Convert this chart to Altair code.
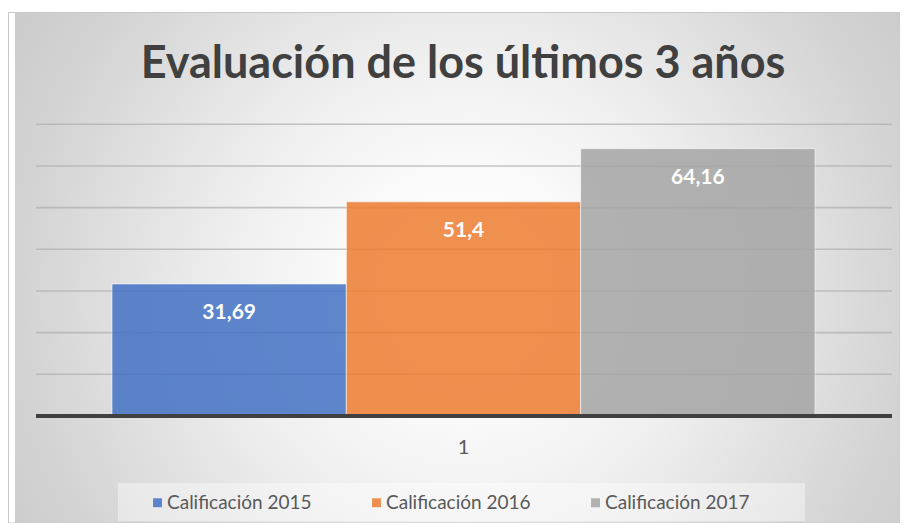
import altair as alt
import pandas as pd

# ---- data ----
series = ["Calificación 2015", "Calificación 2016", "Calificación 2017"]
values = [31.69, 51.4, 64.16]
colors = ["#4472C4", "#ED7D31", "#A5A5A5"]
category = ["1"]
grid_values = [10, 20, 30, 40, 50, 60, 70]
title_text = "Evaluación de los últimos 3 años"

W, H = 892, 511
FONT = "Lato"

bars_df = pd.DataFrame({
    "serie": series,
    "valor": values,
    "base": [0] * len(values),
    "etiqueta": [str(v).replace(".", ",") for v in values],
})
grid_df = pd.DataFrame({"v": grid_values})
zero_df = pd.DataFrame({"v": [0]})
one = pd.DataFrame({"k": [0]})
cat_df = pd.DataFrame({"cat": category})

yscale = alt.Scale(domain=[-25.68, 96.95], nice=False, zero=False)
xscale = alt.Scale(domain=series, range=[104, 807], paddingInner=0, paddingOuter=0)
cscale = alt.Scale(domain=series, range=colors)

bg = alt.Chart(one).mark_rect(
    clip=True,
    fill=alt.RadialGradient(
        gradient="radial", x1=0.5, y1=0.5, x2=0.5, y2=0.5, r1=0, r2=0.62,
        stops=[
            alt.GradientStop(offset=0, color="#ffffff"),
            alt.GradientStop(offset=0.18, color="#fcfcfc"),
            alt.GradientStop(offset=0.42, color="#efefef"),
            alt.GradientStop(offset=0.8, color="#d3d3d3"),
            alt.GradientStop(offset=1, color="#c8c8c8"),
        ],
    ),
).encode(
    x=alt.value(7), x2=alt.value(907), y=alt.value(-172), y2=alt.value(728)
)

frame = alt.Chart(one).mark_rect(
    fill="transparent", stroke="#c8c8c8", strokeWidth=1
).encode(x=alt.value(0.5), x2=alt.value(W), y=alt.value(0.5), y2=alt.value(H))

grid = alt.Chart(grid_df).mark_rule(color="#b0b0b0", strokeWidth=1.6, opacity=0.75).encode(
    y=alt.Y("v:Q", scale=yscale, axis=None),
    x=alt.value(28), x2=alt.value(884),
)

bars = alt.Chart(bars_df).mark_bar(
    opacity=0.85, stroke="#ffffff", strokeWidth=1, strokeOpacity=0.6
).encode(
    x=alt.X("serie:N", scale=xscale, axis=None, sort=series),
    y=alt.Y("valor:Q", scale=yscale, axis=None),
    y2="base:Q",
    color=alt.Color(
        "serie:N", scale=cscale, sort=series, title=None,
        legend=alt.Legend(
            orient="none", legendX=140, legendY=481, direction="horizontal",
            columns=3, columnPadding=55, padding=0,
            symbolType="square", symbolSize=80, symbolStrokeWidth=0,
            labelFont=FONT, labelFontSize=19, labelColor="#595959",
            labelOffset=0, labelLimit=300,
        ),
    ),
)

baseline = alt.Chart(zero_df).mark_rule(color="#404040", strokeWidth=4).encode(
    y=alt.Y("v:Q", scale=yscale, axis=None), x=alt.value(28), x2=alt.value(884)
)

labels = alt.Chart(bars_df).mark_text(
    font=FONT, fontSize=21, fontWeight="bold", color="white",
    baseline="alphabetic", dy=35,
).encode(
    x=alt.X("serie:N", scale=xscale, axis=None, sort=series),
    y=alt.Y("valor:Q", scale=yscale, axis=None),
    text="etiqueta:N",
)

cat_label = alt.Chart(cat_df).mark_text(
    font=FONT, fontSize=20, color="#595959", baseline="alphabetic"
).encode(x=alt.value(455.5), y=alt.value(442), text="cat:N")

legend_bg = alt.Chart(one).mark_rect(fill="#ffffff", opacity=0.4).encode(
    x=alt.value(110), x2=alt.value(797), y=alt.value(471), y2=alt.value(509)
)

title = alt.Chart(pd.DataFrame({"t": [title_text]})).mark_text(
    font=FONT, fontSize=45, fontWeight="bold", color="#404040", baseline="alphabetic"
).encode(x=alt.value(455), y=alt.value(66), text="t:N")

chart = alt.layer(
    bg, frame, legend_bg, grid, bars, baseline, labels, cat_label, title
).properties(
    width=W, height=H,
    padding={"left": 0, "top": 4, "right": 0, "bottom": 0},
    autosize=alt.AutoSizeParams(type="none"),
).configure_view(stroke=None)

chart.save("out.html", embed_options={"renderer": "svg", "actions": False})
